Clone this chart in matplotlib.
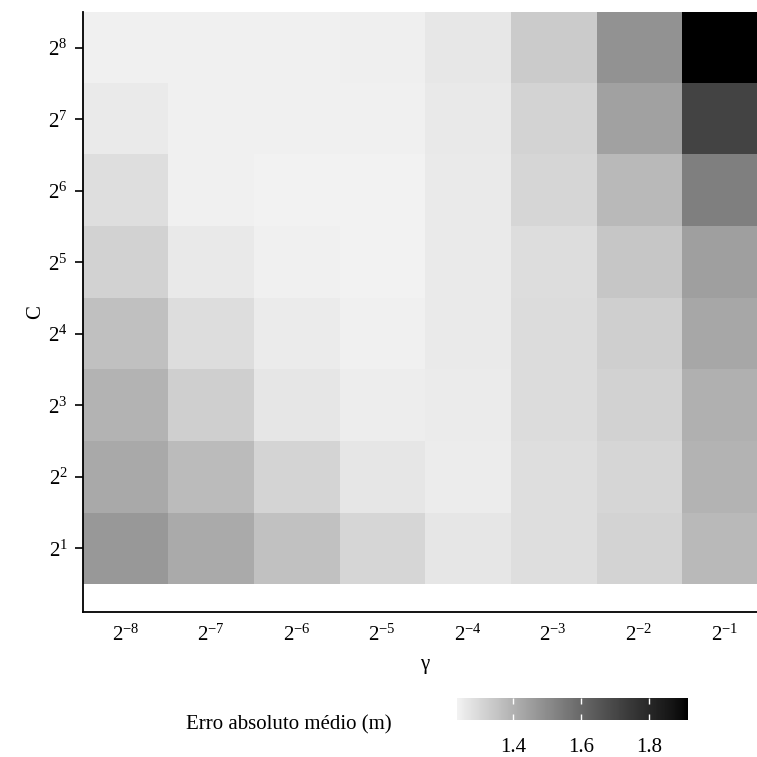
# heatmap of mean absolute error over the SVR grid (gamma x C)
import matplotlib.pyplot as plt
import numpy as np
from matplotlib.colors import ListedColormap

plt.rcParams['font.family'] = 'Liberation Serif'
plt.rcParams['mathtext.fontset'] = 'custom'
plt.rcParams['mathtext.rm'] = 'Liberation Serif'
plt.rcParams['mathtext.it'] = 'Liberation Serif:italic'

# grid values
gamma_exp = [-8, -7, -6, -5, -4, -3, -2, -1]
c_exp = [1, 2, 3, 4, 5, 6, 7, 8]

# mean absolute error (m), one list per C, columns follow gamma_exp
mae_c1 = [1.467, 1.419, 1.359, 1.306, 1.265, 1.285, 1.313, 1.380]
mae_c2 = [1.422, 1.375, 1.311, 1.265, 1.250, 1.285, 1.306, 1.396]
mae_c3 = [1.396, 1.325, 1.265, 1.247, 1.253, 1.289, 1.316, 1.404]
mae_c4 = [1.362, 1.287, 1.253, 1.239, 1.255, 1.289, 1.325, 1.427]
mae_c5 = [1.316, 1.258, 1.238, 1.235, 1.255, 1.287, 1.344, 1.449]
mae_c6 = [1.285, 1.238, 1.236, 1.235, 1.255, 1.306, 1.380, 1.535]
mae_c7 = [1.255, 1.238, 1.238, 1.239, 1.258, 1.313, 1.443, 1.709]
mae_c8 = [1.238, 1.238, 1.238, 1.241, 1.263, 1.333, 1.484, 1.915]

mae = np.array([mae_c1, mae_c2, mae_c3, mae_c4, mae_c5, mae_c6, mae_c7, mae_c8])

cbar_ticks = [1.4, 1.6, 1.8]


def grey_lab_cmap(l_low=95.5, n=256):
    # grey ramp that is linear in CIE L*, from light grey to black
    L = np.linspace(l_low, 0, n)
    fy = (L + 16) / 116
    Y = np.where(L > 8, fy ** 3, L / 903.3)
    s = np.where(Y <= 0.0031308, 12.92 * Y, 1.055 * Y ** (1 / 2.4) - 0.055)
    s = np.clip(s, 0, 1)
    return ListedColormap(np.column_stack([s, s, s, np.ones(n)]))


cmap = grey_lab_cmap()

fig = plt.figure(figsize=(7.57, 7.57), dpi=100)
ax = fig.add_axes([0.1096, 0.1915, 0.9036, 0.7926])

im = ax.imshow(mae, cmap=cmap, vmin=mae.min(), vmax=mae.max(),
               extent=(0.5, 8.5, 0.5, 8.5), origin='lower',
               aspect='auto', interpolation='nearest')

ax.set_xlim(0.5, 8.5)
ax.set_ylim(0.11, 8.5)

ax.set_xticks(range(1, 9))
ax.set_xticklabels([r'$\mathregular{2^{%d}}$' % e for e in gamma_exp])
ax.set_yticks(range(1, 9))
ax.set_yticklabels([r'$\mathregular{2^{%d}}$' % e for e in c_exp])

for side in ['top', 'right']:
    ax.spines[side].set_visible(False)
for side in ['left', 'bottom']:
    ax.spines[side].set_linewidth(1.3)

ax.tick_params(axis='x', length=0, pad=9, labelsize=15)
ax.tick_params(axis='y', length=6, width=1.2, pad=5, labelsize=15)

ax.set_xlabel('γ', fontsize=15, labelpad=7)
ax.set_ylabel('C', fontsize=15, labelpad=2)

# colour bar below the plot
cax = fig.add_axes([0.6037, 0.0489, 0.3052, 0.029])
cb = fig.colorbar(im, cax=cax, orientation='horizontal', ticks=cbar_ticks)
cb.outline.set_visible(False)
cax.tick_params(length=4, width=1, color='white', direction='in',
                top=True, bottom=True, labelsize=15, pad=13)
cax.set_xticklabels(['%.1f' % t for t in cbar_ticks])

fig.text(186 / 757, 0.042, 'Erro absoluto médio (m)', ha='left', va='center',
         fontsize=15)

fig.savefig('out.png', dpi=100)
